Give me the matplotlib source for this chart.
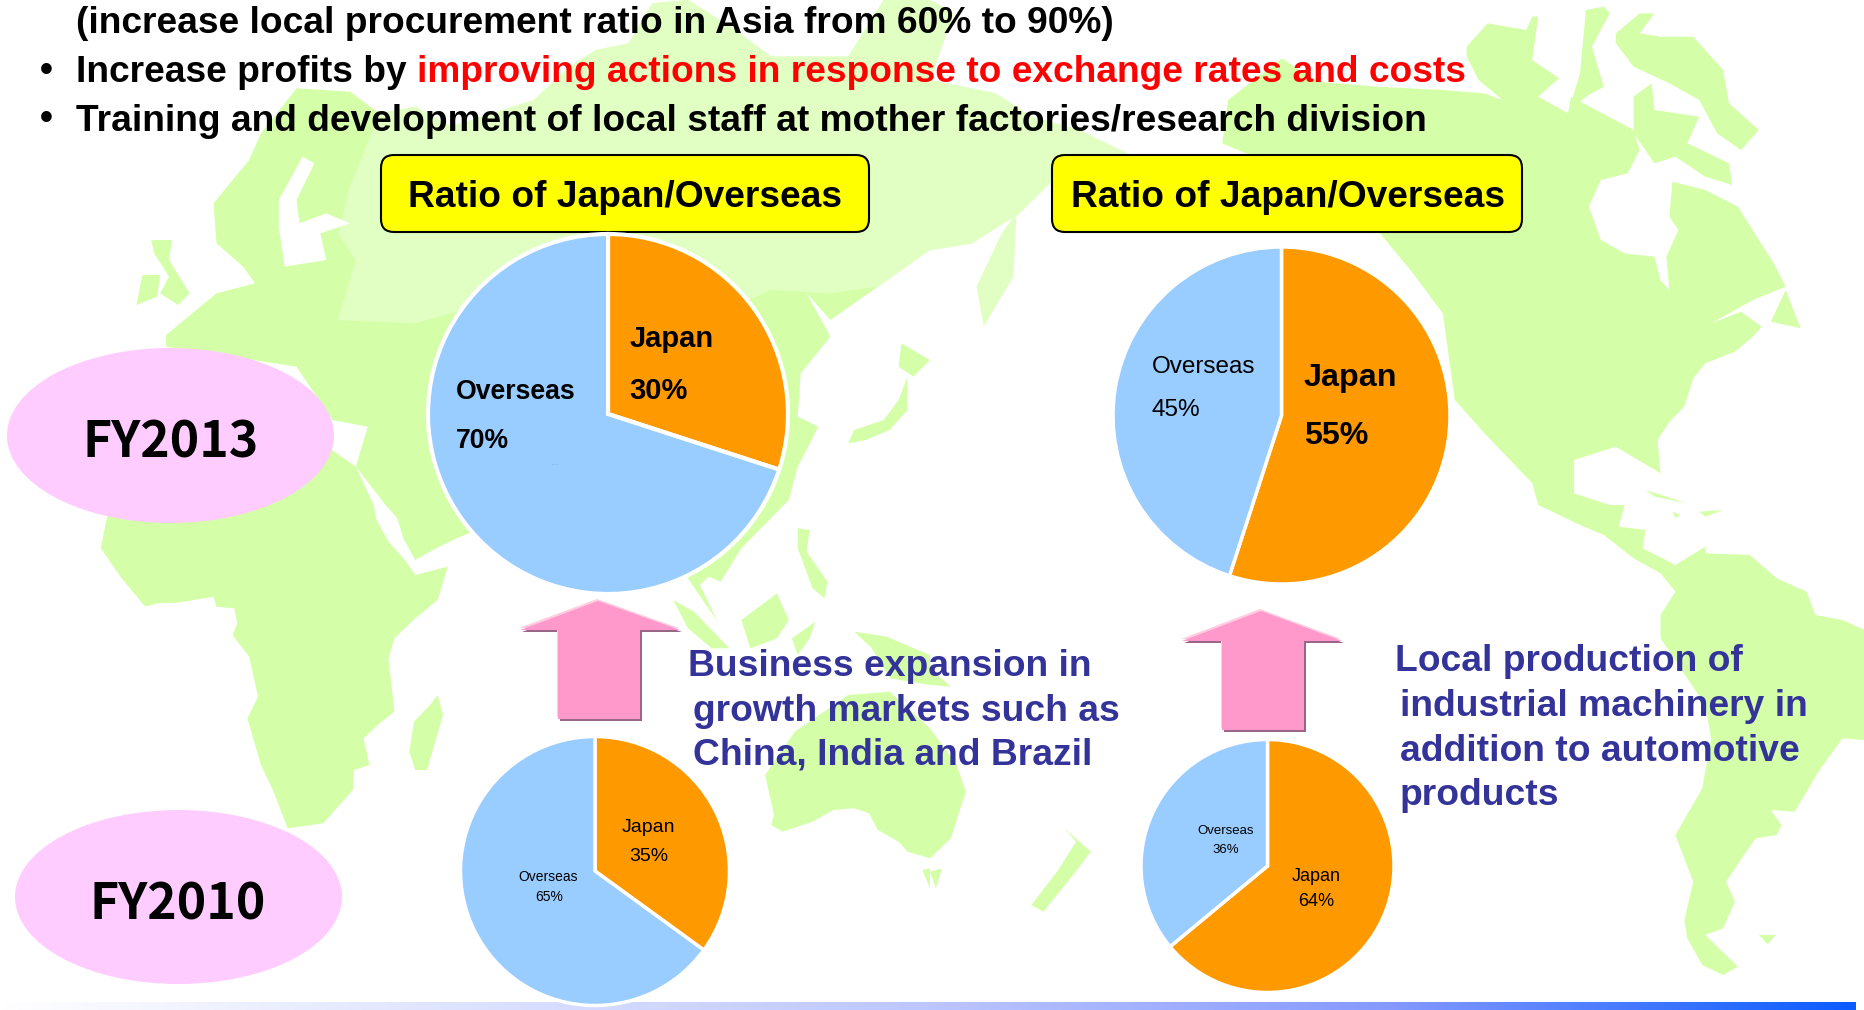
import numpy as np
import matplotlib
matplotlib.use('Agg')
import matplotlib.pyplot as plt
from matplotlib.patches import Polygon, Ellipse, FancyBboxPatch

plt.rcParams['font.family'] = ['Liberation Sans', 'DejaVu Sans']

W, H = 1865, 1010

# pie values, clockwise from 12 o'clock
shares_2013_left = [30, 70]
shares_2013_right = [55, 45]
shares_2010_left = [35, 65]
shares_2010_right = [64, 36]
pie_names = ['Japan', 'Overseas']
pie_colors = ['#ff9900', '#99ccff']

header_lines = ['(increase local procurement ratio in Asia from 60% to 90%)',
                'Increase profits by ',
                'improving actions in response to exchange rates and costs',
                'Training and development of local staff at mother factories/research division']
box_title = 'Ratio of Japan/Overseas'
year_labels = ['FY2013', 'FY2010']
note_left = ['Business expansion in', 'growth markets such as', 'China, India and Brazil']
note_right = ['Local production of', 'industrial machinery in', 'addition to automotive', 'products']

GREEN = '#d4ffa8'
LIGHT = '#e1ffc3'
BLUE_TXT = '#333399'
HEAD_SIZE = 26.75
NOTE_SIZE = 26.8


def q1(p):
    return [(x / 1.686, y / 3) for x, y in p]
def q2(p):
    return [(930 + x / 1.677, y / 3) for x, y in p]
def q3(p):
    return [(x / 1.686, 505 + y / 3) for x, y in p]
def q4(p):
    return [(930 + x / 1.677, 505 + y / 3) for x, y in p]


fig = plt.figure(figsize=(W / 100, H / 100), dpi=100, facecolor='white')
bg = fig.add_axes([0, 0, 1, 1], zorder=0)
bg.set_xlim(0, W)
bg.set_ylim(H, 0)
bg.axis('off')

# --- world map behind everything
land = []
# Eurasia
land.append(q1([(280, 1005), (365, 880), (430, 850), (410, 800), (365, 730), (360, 610), (420, 480), (440, 400),
                (500, 265), (590, 275), (640, 340), (700, 320), (760, 380), (900, 300), (960, 200), (1005, 150),
                (1060, 130), (1100, 10), (1160, 0), (1240, 90), (1300, 170), (1430, 170), (1490, 0), (1568, 0)])
            + q2([(40, 40), (0, 240), (110, 280), (170, 350), (250, 390), (330, 460), (240, 480), (150, 640),
                  (70, 730), (20, 745)])
            + q1([(1568, 750), (1480, 860), (1400, 960), (1360, 880), (1400, 1010), (1350, 1120), (1345, 1250),
                  (1380, 1280), (1345, 1400), (1330, 1500)])
            + q3([(1250, 130), (1215, 230), (1195, 215), (1180, 240), (1210, 350), (1175, 260), (1160, 220),
                  (1150, 150), (1000, 100), (850, 60), (790, 85), (770, 100), (735, 130), (700, 165), (680, 100),
                  (670, 40), (650, 0)])
            + q1([(600, 1400), (620, 1280), (560, 1260), (500, 1100), (280, 1040)]))
for poly in land:
    bg.add_patch(Polygon(poly, closed=True, fc=GREEN, ec='none', zorder=1))
# lighter russia
bg.add_patch(Polygon(q1([(570, 960), (600, 780), (570, 700), (590, 560), (640, 340), (700, 320), (760, 380), (900, 300),
                         (960, 200), (1005, 150), (1060, 130), (1100, 10), (1160, 0), (1240, 90), (1300, 170),
                         (1430, 170), (1490, 0), (1568, 0)])
                     + q2([(40, 40), (0, 240), (110, 280), (170, 350), (250, 390), (330, 460), (240, 480), (150, 640),
                           (70, 730), (20, 745)])
                     + q1([(1568, 750), (1480, 860), (1400, 880), (1300, 870), (1200, 950), (1000, 900), (800, 920),
                           (700, 970)]),
                     closed=True, fc=LIGHT, ec='none', zorder=2))
# Africa
africa = (q1([(560, 1350), (600, 1400)]) + q3([(630, 0), (635, 45), (655, 110), (685, 170), (700, 210), (755, 185), (738, 285),
                                                (700, 340), (665, 400), (655, 460), (665, 620), (640, 655), (613, 700),
                                                (623, 780), (597, 795), (595, 855), (545, 955), (485, 970), (460, 855),
                                                (440, 780), (417, 640), (435, 575), (420, 455), (392, 390), (400, 355),
                                                (395, 310), (365, 305), (360, 275), (300, 293), (265, 295), (245, 305),
                                                (205, 220), (170, 130), (180, 40), (200, -30)]))
others = [
    africa,
    q3([(738, 570), (747, 630), (720, 795), (700, 795), (690, 740), (698, 650), (725, 600)]),  # madagascar
    q1([(255, 720), (290, 720), (285, 780), (320, 880), (300, 915), (270, 880), (285, 830), (260, 760)]),  # uk
    q1([(240, 825), (270, 825), (265, 890), (230, 915)]),
    q3([(1135, 285), (1170, 320), (1230, 430), (1200, 430), (1160, 370)]),  # sumatra
    q3([(1250, 345), (1310, 265), (1330, 345), (1310, 400), (1265, 430)]),  # borneo
    q3([(1345, 70), (1365, 75), (1360, 140), (1395, 230), (1390, 280), (1370, 250), (1345, 130)]),
    q3([(1335, 400), (1375, 350), (1365, 400), (1345, 450)]),
    q3([(1440, 380), (1495, 395), (1568, 450), (1568, 540), (1500, 520), (1470, 430)]),  # new guinea
    q4([(0, 490), (35, 545), (0, 540)]),
    # australia
    q3([(1290, 810), (1305, 930), (1300, 960), (1320, 980), (1370, 950), (1405, 915), (1440, 910), (1465, 925),
        (1480, 975), (1515, 1010), (1530, 1040), (1568, 1060)])
    + q4([(0, 1060), (35, 1000), (60, 860), (45, 780), (0, 670)])
    + q3([(1500, 560), (1430, 570), (1340, 680)]),
    q3([(1555, 1095), (1568, 1090), (1568, 1150)]),
    q4([(0, 1100), (20, 1090), (10, 1150)]),
    q4([(225, 970), (270, 1040), (240, 1110), (190, 1220), (170, 1200), (215, 1095), (245, 1010)]),  # nz
    # japan etc
    q1([(1430, 1330), (1440, 1290), (1490, 1260), (1515, 1200), (1530, 1130), (1530, 1230), (1500, 1290), (1460, 1320)]),
    q1([(1520, 1030), (1568, 1080), (1540, 1130), (1515, 1100)]),
    # north america
    q2([(490, 430), (500, 300), (590, 175), (650, 245), (750, 260), (860, 270), (930, 280), (960, 300), (1010, 280),
        (1070, 340), (1075, 290), (1180, 390), (1190, 450), (1170, 520), (1125, 540), (1105, 620), (1125, 720),
        (1165, 760), (1215, 770), (1225, 840), (1240, 870), (1235, 770), (1255, 690), (1240, 650), (1245, 545),
        (1300, 570), (1355, 620), (1390, 720), (1415, 790), (1435, 860), (1380, 900), (1310, 970), (1360, 935),
        (1395, 980), (1380, 1010), (1350, 1055), (1300, 1090), (1280, 1135), (1265, 1220), (1240, 1265), (1220, 1320),
        (1225, 1420), (1150, 1340), (1080, 1380), (1080, 1480), (1140, 1515)])
    + q4([(1165, 0), (1155, 65), (1200, 75), (1195, 130), (1250, 180), (1225, 205), (1180, 160), (1130, 90), (1090, 60),
          (1020, 0)])
    + q2([(1020, 1515), (1010, 1450), (930, 1300), (880, 1200), (860, 940), (810, 820), (750, 690), (700, 500), (530, 460)]),
    q2([(900, 140), (935, 70), (1000, 90), (1010, 50), (1020, 50), (1010, 180), (1055, 235), (1020, 290), (960, 300),
        (920, 240), (900, 170)]),
    q2([(1100, 30), (1130, 20), (1140, 40), (1110, 140), (1130, 260), (1100, 290), (1070, 340), (1090, 220)]),
    q2([(1150, 100), (1190, 40), (1215, 40), (1190, 100), (1225, 110), (1280, 110), (1330, 210), (1340, 310),
        (1390, 390), (1360, 450), (1320, 400), (1290, 300), (1240, 250), (1180, 200), (1150, 130)]),
    q2([(1180, 290), (1210, 250), (1215, 330), (1290, 350), (1270, 430), (1340, 490), (1345, 555), (1300, 530),
        (1250, 470), (1215, 490), (1180, 400)]),
    q2([(1435, 870), (1460, 985), (1410, 965)]),
    q2([(1200, 1470), (1270, 1510), (1215, 1490)]),
    q4([(1245, 20), (1258, 30), (1250, 40)]),
    q4([(1290, 20), (1330, 15), (1300, 35)]),
    # south america
    q4([(1250, 260), (1225, 205), (1250, 180), (1300, 125), (1300, 145), (1375, 150), (1420, 220), (1470, 260), (1485, 330),
        (1530, 345), (1568, 375), (1568, 705), (1530, 700), (1490, 800), (1450, 920), (1410, 915), (1428, 960),
        (1420, 990), (1385, 1000), (1365, 1050), (1335, 1130), (1350, 1190), (1330, 1270), (1300, 1290), (1355, 1385),
        (1330, 1410), (1295, 1380), (1270, 1300), (1265, 1245), (1280, 1130), (1250, 990), (1295, 850), (1310, 700),
        (1300, 600), (1225, 400), (1225, 330)]),
    q4([(1390, 1290), (1418, 1290), (1405, 1318)]),
]
for poly in others:
    bg.add_patch(Polygon(poly, closed=True, fc=GREEN, ec='none', zorder=3))
# kamchatka
bg.add_patch(Polygon(q2([(145, 640), (140, 830), (90, 980), (78, 860), (120, 700)]), fc=LIGHT, ec='none', zorder=3))

# baltic and a couple of gaps
bg.add_patch(Polygon(q1([(510, 470), (530, 490), (500, 600), (505, 670), (550, 640), (590, 670), (540, 700), (550, 780),
                         (480, 800), (470, 680), (470, 600)]), closed=True, fc='white', ec='none', zorder=4))

# strip along the bottom
t = np.linspace(0, 1, 512)
stops = [0, 0.5, 0.75, 1]
rgb = np.stack([np.interp(t, stops, [255, 0xbc, 0x85, 0x0a]),
                np.interp(t, stops, [255, 0xc6, 0x99, 0x5c]),
                np.interp(t, stops, [255, 0xff, 0xff, 0xff])], axis=-1)[None, :, :] / 255
bg.imshow(rgb, extent=(0, 1856, 1010, 1002), aspect='auto', zorder=5)
bg.set_xlim(0, W)
bg.set_ylim(H, 0)

# year ellipses
bg.add_patch(Ellipse((170.5, 435.5), 327, 175, fc='#ffccff', ec='none', zorder=6))
bg.add_patch(Ellipse((178.5, 897), 327, 174, fc='#ffccff', ec='none', zorder=6))

# yellow title boxes
for x0, x1 in [(381, 869), (1052, 1522)]:
    bg.add_patch(FancyBboxPatch((x0 + 12, 167), x1 - x0 - 24, 53, boxstyle='round,pad=12,rounding_size=13',
                                fc='#ffff00', ec='black', lw=1.5, zorder=6))


# arrows
def arrow(ax_x, tip, wing_y, x0, x1, s0, s1, bottom):
    shape = [(ax_x, tip), (x1, wing_y), (s1, wing_y), (s1, bottom), (s0, bottom), (s0, wing_y), (x0, wing_y)]
    shifted = lambda dx, dy: [(a + dx, b + dy) for a, b in shape]
    bg.add_patch(Polygon(shifted(2, 2), fc='#996688', ec='none', zorder=6))
    bg.add_patch(Polygon(shifted(-1, -2), fc='#ffcce0', ec='none', zorder=6))
    bg.add_patch(Polygon(shape, fc='#ff99cc', ec='none', zorder=7))


arrow(598, 601, 630, 520, 680, 558, 640, 719)
arrow(1261, 611, 641, 1182, 1342, 1222, 1304, 730)


# pies
def draw_pie(cx, cy, r, vals, lw):
    m = 1.04
    a = fig.add_axes([(cx - r * m) / W, 1 - (cy + r * m) / H, 2 * r * m / W, 2 * r * m / H], zorder=1)
    a.pie(vals, colors=pie_colors, startangle=90, counterclock=False, radius=1,
          wedgeprops=dict(edgecolor='white', linewidth=lw))
    a.set_xlim(-m, m)
    a.set_ylim(-m, m)
    a.patch.set_alpha(0)


draw_pie(608, 414, 180, shares_2013_left, 3)
draw_pie(1281.5, 415.5, 168.5, shares_2013_right, 2.5)
draw_pie(595, 871, 134.5, shares_2010_left, 2.5)
draw_pie(1267.5, 866, 126.5, shares_2010_right, 2.5)

# all text goes on a top layer
fg = fig.add_axes([0, 0, 1, 1], zorder=2)
fg.set_xlim(0, W)
fg.set_ylim(H, 0)
fg.axis('off')

fg.text(76, 33, header_lines[0], fontsize=HEAD_SIZE, fontweight='bold', color='black')
fg.text(46, 71, '•', fontsize=HEAD_SIZE, fontweight='bold', ha='center', va='center')
fg.text(76, 82, header_lines[1], fontsize=HEAD_SIZE, fontweight='bold', color='black')
fg.text(417, 82, header_lines[2], fontsize=HEAD_SIZE, fontweight='bold', color='#ff0000')
fg.text(46, 120, '•', fontsize=HEAD_SIZE, fontweight='bold', ha='center', va='center')
fg.text(76, 131, header_lines[3], fontsize=HEAD_SIZE, fontweight='bold', color='black')

fg.text(625.5, 207, box_title, fontsize=26.75, fontweight='bold', ha='center')
fg.text(1288, 207, box_title, fontsize=26.75, fontweight='bold', ha='center')

year_font = ['Noto Sans CJK JP', 'DejaVu Sans']
fg.text(170.5, 458, year_labels[0], fontsize=36, fontweight='bold', ha='center', family=year_font)
fg.text(178, 919, year_labels[1], fontsize=36, fontweight='bold', ha='center', family=year_font)

# pie labels
fg.text(630, 347, pie_names[0], fontsize=21, fontweight='bold')
fg.text(629, 399, '%d%%' % shares_2013_left[0], fontsize=21, fontweight='bold')
fg.text(456, 399, pie_names[1], fontsize=19.2, fontweight='bold')
fg.text(456, 448, '%d%%' % shares_2013_left[1], fontsize=19.2, fontweight='bold')
fg.text(555, 465, '- - -', fontsize=3, color='#777777', ha='center')

fg.text(1304, 386, pie_names[0], fontsize=23.2, fontweight='bold')
fg.text(1304, 444, '%d%%' % shares_2013_right[0], fontsize=23.2, fontweight='bold')
fg.text(1152, 373, pie_names[1], fontsize=17.5, color='black')
fg.text(1152, 416, '%d%%' % shares_2013_right[1], fontsize=17.5, color='black')

fg.text(648, 832, pie_names[0], fontsize=14, ha='center')
fg.text(649, 861, '%d%%' % shares_2010_left[0], fontsize=14, ha='center')
fg.text(548, 881, pie_names[1], fontsize=10, ha='center')
fg.text(549, 901, '%d%%' % shares_2010_left[1], fontsize=10, ha='center')

fg.text(1316, 881, pie_names[0], fontsize=13, ha='center')
fg.text(1316, 906, '%d%%' % shares_2010_right[0], fontsize=13, ha='center')
fg.text(1226, 834, pie_names[1], fontsize=9.5, ha='center')
fg.text(1226, 853, '%d%%' % shares_2010_right[1], fontsize=9.5, ha='center')

# blue notes
for x, y, s in zip([688, 693, 693], [676, 721, 765], note_left):
    fg.text(x, y, s, fontsize=NOTE_SIZE, fontweight='bold', color=BLUE_TXT)
for x, y, s in zip([1395, 1400, 1400, 1400], [671, 716, 761, 805], note_right):
    fg.text(x, y, s, fontsize=NOTE_SIZE, fontweight='bold', color=BLUE_TXT)

plt.savefig('out.png', dpi=100)
